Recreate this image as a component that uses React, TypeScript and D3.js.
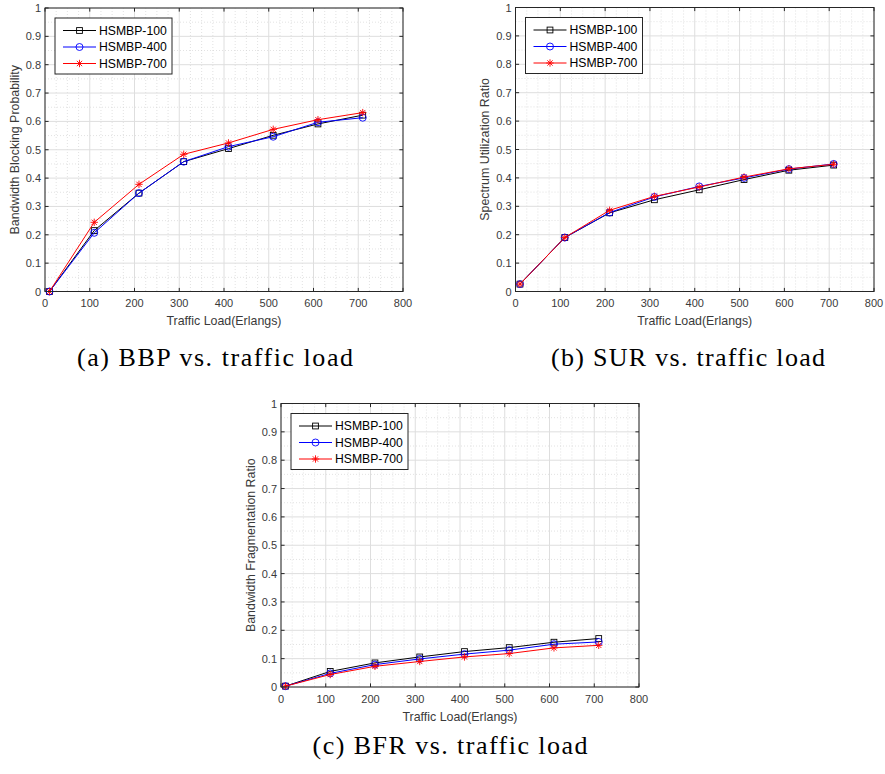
import React from "react";
import * as d3 from "d3";

// Traffic loads (Erlangs) at which each scheme was evaluated
const loads = [10, 110, 210, 310, 410, 510, 610, 710];

const seriesNames = ["HSMBP-100", "HSMBP-400", "HSMBP-700"];

// Bandwidth blocking probability
const bbp100 = [0.0, 0.215, 0.347, 0.458, 0.504, 0.551, 0.591, 0.622];
const bbp400 = [0.0, 0.207, 0.347, 0.458, 0.511, 0.546, 0.597, 0.613];
const bbp700 = [0.0, 0.244, 0.378, 0.484, 0.524, 0.572, 0.606, 0.631];

// Spectrum utilization ratio
const sur100 = [0.026, 0.19, 0.277, 0.323, 0.358, 0.394, 0.427, 0.445];
const sur400 = [0.026, 0.19, 0.278, 0.333, 0.37, 0.4, 0.431, 0.449];
const sur700 = [0.026, 0.19, 0.286, 0.335, 0.368, 0.403, 0.432, 0.448];

// Bandwidth fragmentation ratio
const bfr100 = [0.003, 0.055, 0.085, 0.106, 0.125, 0.139, 0.158, 0.171];
const bfr400 = [0.003, 0.048, 0.079, 0.099, 0.116, 0.13, 0.151, 0.159];
const bfr700 = [0.003, 0.044, 0.073, 0.09, 0.106, 0.118, 0.138, 0.147];

const xTicks = [0, 100, 200, 300, 400, 500, 600, 700, 800];
const yTicks = [0, 0.1, 0.2, 0.3, 0.4, 0.5, 0.6, 0.7, 0.8, 0.9, 1];
const yTickLabels = ["0", "0.1", "0.2", "0.3", "0.4", "0.5", "0.6", "0.7", "0.8", "0.9", "1"];

const xLabel = "Traffic Load(Erlangs)";

const COLORS = ["#000000", "#0000ff", "#ff0000"];
const MARKERS = ["square", "circle", "asterisk"];
const AXIS = "#262626";
const TICK_TEXT = "#3a3a3a";
const SANS = "'Liberation Sans', Arial, sans-serif";
const SERIF = "'Liberation Serif', 'Times New Roman', serif";

type Marker = string;

function MarkerShape({ kind, x, y, color }: { kind: Marker; x: number; y: number; color: string }) {
  if (kind === "square") {
    const s = 2.9;
    return <rect x={x - s} y={y - s} width={2 * s} height={2 * s} fill="none" stroke={color} strokeWidth={0.9} />;
  }
  if (kind === "circle") {
    return <circle cx={x} cy={y} r={3.5} fill="none" stroke={color} strokeWidth={0.9} />;
  }
  const r = 3.7;
  const d = r * 0.72;
  return (
    <g stroke={color} strokeWidth={0.9}>
      <line x1={x} y1={y - r} x2={x} y2={y + r} />
      <line x1={x - r} y1={y} x2={x + r} y2={y} />
      <line x1={x - d} y1={y - d} x2={x + d} y2={y + d} />
      <line x1={x - d} y1={y + d} x2={x + d} y2={y - d} />
    </g>
  );
}

type PanelProps = {
  left: number;
  top: number;
  width: number;
  height: number;
  yLabel: string;
  series: number[][];
  caption: string;
  captionX: number;
  captionY: number;
  captionWidth: number;
};

function Panel({ left, top, width, height, yLabel, series, caption, captionX, captionY, captionWidth }: PanelProps) {
  const x = d3.scaleLinear().domain([0, 800]).range([left, left + width]);
  const y = d3.scaleLinear().domain([0, 1]).range([top + height, top]);
  const line = d3
    .line<number>()
    .x((_, i) => x(loads[i]))
    .y((v) => y(v));

  const xMinor = d3.range(0, 801, 25).filter((v) => v % 100 !== 0);
  const yMinor = d3.range(0.05, 1, 0.1);
  const tickLen = 3.6;
  const bottom = top + height;
  const right = left + width;

  const legX = left + 10;
  const legY = top + 10;
  const rowY = [12.5, 29, 45.5];

  return (
    <g>
      <rect x={left} y={top} width={width} height={height} fill="#ffffff" />
      {/* minor grid */}
      <g stroke="#cfcfcf" strokeWidth={0.6} strokeDasharray="1,2">
        {xMinor.map((v) => (
          <line key={"xm" + v} x1={x(v)} x2={x(v)} y1={top} y2={bottom} />
        ))}
        {yMinor.map((v) => (
          <line key={"ym" + v} x1={left} x2={right} y1={y(v)} y2={y(v)} />
        ))}
      </g>
      {/* major grid */}
      <g stroke="#dedede" strokeWidth={1}>
        {xTicks.map((v) => (
          <line key={"xg" + v} x1={x(v)} x2={x(v)} y1={top} y2={bottom} />
        ))}
        {yTicks.map((v) => (
          <line key={"yg" + v} x1={left} x2={right} y1={y(v)} y2={y(v)} />
        ))}
      </g>
      {/* data */}
      {series.map((vals, si) => (
        <g key={"s" + si}>
          <path d={line(vals) || ""} fill="none" stroke={COLORS[si]} strokeWidth={1} />
          {vals.map((v, i) => (
            <MarkerShape key={i} kind={MARKERS[si]} x={x(loads[i])} y={y(v)} color={COLORS[si]} />
          ))}
        </g>
      ))}
      {/* axes box and ticks */}
      <rect x={left} y={top} width={width} height={height} fill="none" stroke={AXIS} strokeWidth={1} />
      <g stroke={AXIS} strokeWidth={1}>
        {xTicks.map((v) => (
          <g key={"xt" + v}>
            <line x1={x(v)} x2={x(v)} y1={bottom} y2={bottom - tickLen} />
            <line x1={x(v)} x2={x(v)} y1={top} y2={top + tickLen} />
          </g>
        ))}
        {yTicks.map((v) => (
          <g key={"yt" + v}>
            <line x1={left} x2={left + tickLen} y1={y(v)} y2={y(v)} />
            <line x1={right} x2={right - tickLen} y1={y(v)} y2={y(v)} />
          </g>
        ))}
      </g>
      <g fontFamily={SANS} fill={TICK_TEXT}>
        <g fontSize={11}>
          {xTicks.map((v) => (
            <text key={"xl" + v} x={x(v)} y={bottom + 15.5} textAnchor="middle">
              {v}
            </text>
          ))}
          {yTicks.map((v, i) => (
            <text key={"yl" + v} x={left - 4} y={y(v) + 4} textAnchor="end">
              {yTickLabels[i]}
            </text>
          ))}
        </g>
        <g fontSize={12.4}>
          <text x={left + width / 2} y={bottom + 33.5} textAnchor="middle">
            {xLabel}
          </text>
          <text
            transform={`translate(${left - 26.5},${top + height / 2}) rotate(-90)`}
            textAnchor="middle"
          >
            {yLabel}
          </text>
        </g>
      </g>
      {/* legend */}
      <g>
        <rect x={legX} y={legY} width={117} height={56} fill="#ffffff" stroke={AXIS} strokeWidth={1} />
        {seriesNames.map((name, i) => (
          <g key={name}>
            <line x1={legX + 8} x2={legX + 41} y1={legY + rowY[i]} y2={legY + rowY[i]} stroke={COLORS[i]} strokeWidth={1} />
            <MarkerShape kind={MARKERS[i]} x={legX + 24.5} y={legY + rowY[i]} color={COLORS[i]} />
            <text x={legX + 44} y={legY + rowY[i] + 4.3} fontFamily={SANS} fontSize={12.2} fill="#000000">
              {name}
            </text>
          </g>
        ))}
      </g>
      <text
        x={captionX}
        y={captionY}
        textAnchor="middle"
        fontFamily={SERIF}
        fontSize={26}
        fill="#000000"
        textLength={captionWidth}
        lengthAdjust="spacing"
      >
        {caption}
      </text>
    </g>
  );
}

export default function App() {
  return (
    <svg width={885} height={774} style={{ display: "block", position: "absolute", left: 0, top: 0 }}>
      <rect x={0} y={0} width={885} height={774} fill="#ffffff" />
      <Panel
        left={45}
        top={8}
        width={358}
        height={283.5}
        yLabel="Bandwidth Blocking Probability"
        series={[bbp100, bbp400, bbp700]}
        caption="(a) BBP vs. traffic load"
        captionX={215}
        captionY={366}
        captionWidth={276}
      />
      <Panel
        left={515.5}
        top={7.5}
        width={358.5}
        height={284}
        yLabel="Spectrum Utilization Ratio"
        series={[sur100, sur400, sur700]}
        caption="(b) SUR vs. traffic load"
        captionX={688}
        captionY={366}
        captionWidth={274}
      />
      <Panel
        left={281}
        top={403.5}
        width={358}
        height={283.5}
        yLabel="Bandwidth Fragmentation Ratio"
        series={[bfr100, bfr400, bfr700]}
        caption="(c) BFR vs. traffic load"
        captionX={450}
        captionY={754}
        captionWidth={275}
      />
    </svg>
  );
}
